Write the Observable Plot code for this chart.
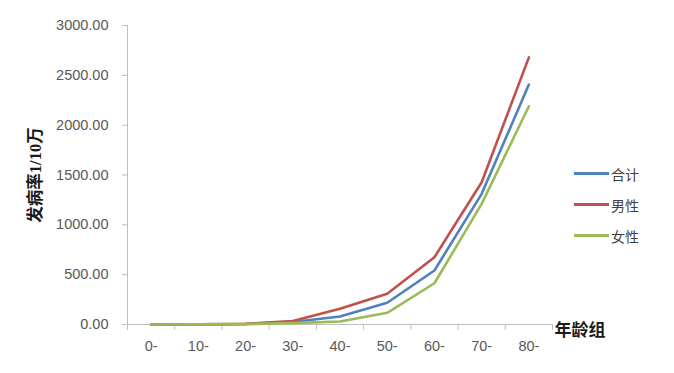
<!DOCTYPE html>
<html><head><meta charset="utf-8">
<script src="https://cdn.jsdelivr.net/npm/d3@7"></script>
<script src="https://cdn.jsdelivr.net/npm/@observablehq/plot@0.6"></script>
<style>
body{margin:0;background:#fff;}
#wrap{position:relative;width:674px;height:373px;}
#legend{position:absolute;left:574px;top:158px;font-family:"Noto Sans CJK SC",sans-serif;font-size:14px;color:#404040;}
.item{display:flex;align-items:center;height:31px;}
.sw{width:35px;height:3px;margin-right:2px;}
</style></head>
<body><div id="wrap"><div id="legend"></div></div>
<script>
const ages = ["0-","10-","20-","30-","40-","50-","60-","70-","80-"];
const total = [0.3, 1, 5, 25, 80, 218, 542, 1311, 2407];
const male = [0.3, 1, 6, 35, 157, 308, 675, 1427, 2680];
const female = [0.2, 1, 4, 14, 30, 117, 414, 1210, 2190];
const seriesNames = ["合计","男性","女性"];
const seriesColors = ["#4f81bd","#c0504d","#9bbb59"];
const yTicks = [0,500,1000,1500,2000,2500,3000];
const yTitle = "发病率1/10万";
const xTitle = "年龄组";

const rows = [];
[total, male, female].forEach((vals, s) => vals.forEach((v, i) => rows.push({i, v, s: seriesNames[s]})));

const plot = Plot.plot({
  width: 674, height: 373,
  marginLeft: 127, marginRight: 122, marginTop: 25, marginBottom: 49,
  style: {fontFamily: "'Liberation Sans', sans-serif", fontSize: "14.5px", color: "#595959", background: "#fff"},
  x: {type: "linear", domain: [-0.5, ages.length - 0.5]},
  y: {domain: [0, 3000]},
  color: {domain: seriesNames, range: seriesColors},
  marks: [
    Plot.axisY({ticks: yTicks, tickFormat: d => d.toFixed(2), tickSize: 5, tickPadding: 14, stroke: "#bfbfbf", fill: "#595959", label: null}),
    Plot.axisX({ticks: d3.range(ages.length), tickFormat: i => ages[i], tickSize: 0, tickPadding: 16, fill: "#595959", label: null}),
    Plot.axisX({ticks: d3.range(ages.length + 1).map(i => i - 0.5), tickFormat: () => "", tickSize: 6, stroke: "#bfbfbf", label: null}),
    Plot.ruleY([0], {stroke: "#bfbfbf"}),
    Plot.ruleX([-0.5], {stroke: "#bfbfbf"}),
    Plot.line(rows, {x: "i", y: "v", z: "s", stroke: "s", strokeWidth: 2.6}),
    Plot.text([yTitle], {frameAnchor: "left", textAnchor: "middle", dx: -91.5, dy: 0, rotate: -90, text: d => d, fontWeight: "bold", fontSize: 16.5, fill: "#1a1a1a", fontFamily: "'Liberation Serif','Noto Sans CJK SC',serif"}),
    Plot.text([xTitle], {frameAnchor: "bottom-right", dx: 2, dy: 6, textAnchor: "start", lineAnchor: "middle", text: d => d, fontWeight: "bold", fontSize: 17, fill: "#1a1a1a", fontFamily: "'Noto Sans CJK SC',sans-serif"})
  ]
});
document.getElementById("wrap").prepend(plot);
const lg = document.getElementById("legend");
seriesNames.forEach((n, k) => {
  const d = document.createElement("div"); d.className = "item";
  d.innerHTML = `<span class="sw" style="background:${seriesColors[k]}"></span><span>${n}</span>`;
  lg.appendChild(d);
});
</script></body></html>
